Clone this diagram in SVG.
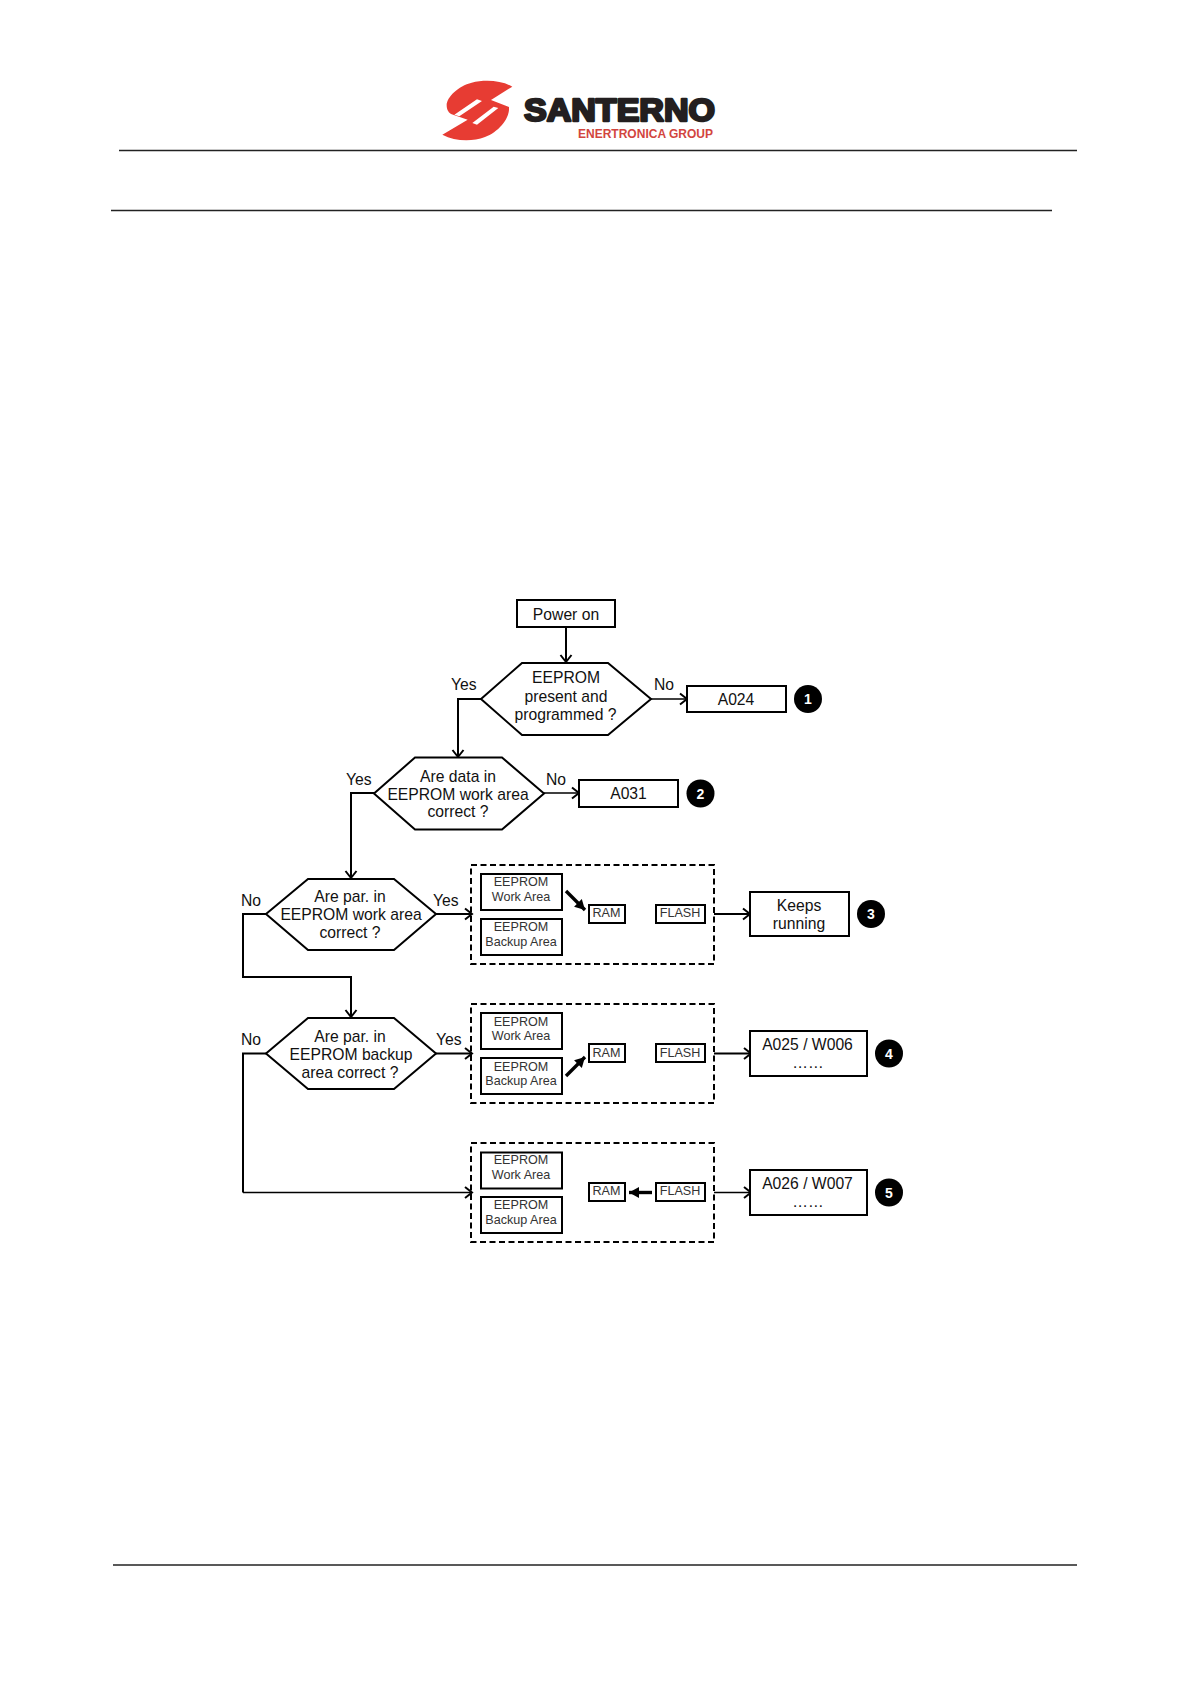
<svg xmlns="http://www.w3.org/2000/svg" width="1191" height="1684" viewBox="0 0 1191 1684">
<style>
text{font-family:"Liberation Sans",Arial,sans-serif;fill:#111;text-anchor:middle}
.t{font-size:15.7px}
.l{font-size:15.7px;text-anchor:start}
.s{font-size:12.6px;fill:#333}
.n{font-size:14px;font-weight:bold;fill:#fff}
.box{fill:#fff;stroke:#000;stroke-width:2}
.dia{fill:#fff;stroke:#000;stroke-width:2}
.dash{fill:none;stroke:#000;stroke-width:2;stroke-dasharray:6 3.5}
.c{fill:none;stroke:#000;stroke-width:2;marker-end:url(#open)}
.c1{fill:none;stroke:#000;stroke-width:1.5;marker-end:url(#open)}
.b{fill:none;stroke:#000;stroke-width:3.4;marker-end:url(#block)}
.rule{stroke:#222;stroke-width:1.3}
</style>
<defs>
<marker id="open" markerUnits="userSpaceOnUse" markerWidth="16" markerHeight="16" refX="12" refY="8" orient="auto"><path d="M5,2.5 L12,8 L5,13.5" fill="none" stroke="#000" stroke-width="2"/></marker>
<marker id="block" markerUnits="userSpaceOnUse" markerWidth="14" markerHeight="14" refX="11" refY="6" orient="auto"><path d="M1,0.5 L11,6 L1,11.5 Z" fill="#000"/></marker>
</defs>
<rect width="1191" height="1684" fill="#fff"/>
<g id="page">
<line class="rule" x1="119" y1="150.5" x2="1077" y2="150.5"/>
<line class="rule" x1="111" y1="210.5" x2="1052" y2="210.5"/>
<line class="rule" x1="113" y1="1565" x2="1077" y2="1565"/>
</g>
<g id="logo">
<g transform="translate(435 72) scale(.3333)">
<path d="M232,44 C200,25 150,22 110,32 C70,42 35,75 35,100 C35,115 42,123 50,127 L98,143 L22,188 C60,208 110,210 150,195 C190,180 225,140 222,105 L168,84 Z" fill="#e73c33"/>
<path d="M58,128 L126,82 L141,87 L73,133 Z M112,153 L176,104 L190,108 L126,158 Z" fill="#fff"/>
</g>
<text x="619.5" y="120.5" font-size="31" font-weight="bold" textLength="191" lengthAdjust="spacingAndGlyphs" style="fill:#231f20;stroke:#231f20;stroke-width:2.4;stroke-linejoin:round">SANTERNO</text>
<text x="645.5" y="137.7" font-size="12" font-weight="bold" textLength="135" lengthAdjust="spacingAndGlyphs" style="fill:#d2453e">ENERTRONICA GROUP</text>
</g>
<g id="connectors">
<path class="c" d="M566,627 V662"/>
<path class="c" d="M481,699 H458 V757"/>
<path class="c1" d="M651,699 H687"/>
<path class="c" d="M374,793 H351 V878"/>
<path class="c1" d="M544,793 H579"/>
<path class="c" d="M436,914 H472"/>
<path class="c" d="M266,914 H243 V977 H351 V1017"/>
<path class="c" d="M436,1053.500 H472"/>
<path d="M266,1053.500 H243 V1192.500" fill="none" stroke="#000" stroke-width="2"/>
<path class="c1" d="M243,1192.500 H472"/>
<path class="c" d="M714,914 H750"/>
<path class="c" d="M714,1053.500 H751"/>
<path class="c1" d="M714,1192.500 H751"/>
<path class="b" d="M566,891 L585,910"/>
<path class="b" d="M566,1076 L585,1057"/>
<path class="b" d="M652,1192.500 L629,1192.500"/>
</g>
<g id="power-on"><rect class="box" x="517" y="600" width="98" height="27"/><text class="t" x="566" y="620">Power on</text></g>
<g id="d1"><path class="dia" d="M481,699 L522,663 H608 L651,699 L608,735 H522 Z"/><text class="t" x="566" y="683">EEPROM</text><text class="t" x="566" y="701.500">present and</text><text class="t" x="565.500" y="719.500">programmed ?</text></g>
<g id="d2"><path class="dia" d="M374,793.500 L415,757.500 H502 L544,793.500 L502,829.500 H415 Z"/><text class="t" x="458" y="782">Are data in</text><text class="t" x="458" y="799.500">EEPROM work area</text><text class="t" x="458" y="817">correct ?</text></g>
<g id="d3"><path class="dia" d="M266,914 L308,879 H394 L436,914 L394,950 H308 Z"/><text class="t" x="350" y="902">Are par. in</text><text class="t" x="351" y="920">EEPROM work area</text><text class="t" x="350" y="938">correct ?</text></g>
<g id="d4"><path class="dia" d="M266,1053.500 L308,1018 H394 L436,1053.500 L394,1089 H308 Z"/><text class="t" x="350" y="1041.500">Are par. in</text><text class="t" x="351" y="1059.500">EEPROM backup</text><text class="t" x="350" y="1077.500">area correct ?</text></g>
<g id="labels">
<text class="l" x="451" y="690">Yes</text><text class="l" x="654" y="690">No</text>
<text class="l" x="346" y="785">Yes</text><text class="l" x="546" y="785">No</text>
<text class="l" x="241" y="906">No</text><text class="l" x="433" y="906">Yes</text>
<text class="l" x="241" y="1045">No</text><text class="l" x="436" y="1045">Yes</text>
</g>
<g id="a024"><rect class="box" x="687" y="686" width="99" height="26"/><text class="t" x="736" y="704.500">A024</text></g>
<g id="a031"><rect class="box" x="579" y="780" width="99" height="27"/><text class="t" x="628.500" y="799">A031</text></g>
<g id="keeps"><rect class="box" x="750" y="892" width="99" height="44"/><text class="t" x="799" y="911">Keeps</text><text class="t" x="799" y="929">running</text></g>
<g id="a025"><rect class="box" x="750" y="1031" width="117" height="45"/><text class="t" x="807.500" y="1050">A025 / W006</text><text class="t" x="808" y="1068">……</text></g>
<g id="a026"><rect class="box" x="750" y="1170" width="117" height="45"/><text class="t" x="807.500" y="1189">A026 / W007</text><text class="t" x="808" y="1207">……</text></g>
<g id="n1"><circle cx="808" cy="699" r="14"/><text class="n" x="808" y="704">1</text></g>
<g id="n2"><circle cx="700.500" cy="793.500" r="14"/><text class="n" x="700.500" y="798.500">2</text></g>
<g id="n3"><circle cx="871" cy="914" r="14"/><text class="n" x="871" y="919">3</text></g>
<g id="n4"><circle cx="889" cy="1053.500" r="14"/><text class="n" x="889" y="1058.500">4</text></g>
<g id="n5"><circle cx="889" cy="1192.500" r="14"/><text class="n" x="889" y="1197.500">5</text></g>
<g id="mem1"><rect class="dash" x="471" y="865" width="243" height="99"/>
<rect class="box" x="481" y="874" width="81" height="36"/><text class="s" x="521" y="886">EEPROM</text><text class="s" x="521" y="900.500">Work Area</text>
<rect class="box" x="481" y="919" width="81" height="36"/><text class="s" x="521" y="931">EEPROM</text><text class="s" x="521" y="945.500">Backup Area</text>
<rect class="box" x="589" y="905" width="36" height="18"/><text class="s" x="606.500" y="917">RAM</text>
<rect class="box" x="656" y="905" width="49" height="18"/><text class="s" x="680" y="917">FLASH</text></g>
<g id="mem2"><rect class="dash" x="471" y="1004" width="243" height="99"/>
<rect class="box" x="481" y="1013" width="81" height="36"/><text class="s" x="521" y="1025.500">EEPROM</text><text class="s" x="521" y="1040">Work Area</text>
<rect class="box" x="481" y="1058" width="81" height="36"/><text class="s" x="521" y="1070.500">EEPROM</text><text class="s" x="521" y="1085">Backup Area</text>
<rect class="box" x="589" y="1044" width="36" height="18"/><text class="s" x="606.500" y="1056.500">RAM</text>
<rect class="box" x="656" y="1044" width="49" height="18"/><text class="s" x="680" y="1056.500">FLASH</text></g>
<g id="mem3"><rect class="dash" x="471" y="1143" width="243" height="99"/>
<rect class="box" x="481" y="1152.500" width="81" height="36"/><text class="s" x="521" y="1164">EEPROM</text><text class="s" x="521" y="1178.500">Work Area</text>
<rect class="box" x="481" y="1197" width="81" height="36"/><text class="s" x="521" y="1209">EEPROM</text><text class="s" x="521" y="1223.500">Backup Area</text>
<rect class="box" x="589" y="1183" width="36" height="18"/><text class="s" x="606.500" y="1195">RAM</text>
<rect class="box" x="656" y="1183" width="49" height="18"/><text class="s" x="680" y="1195">FLASH</text></g>
</svg>
